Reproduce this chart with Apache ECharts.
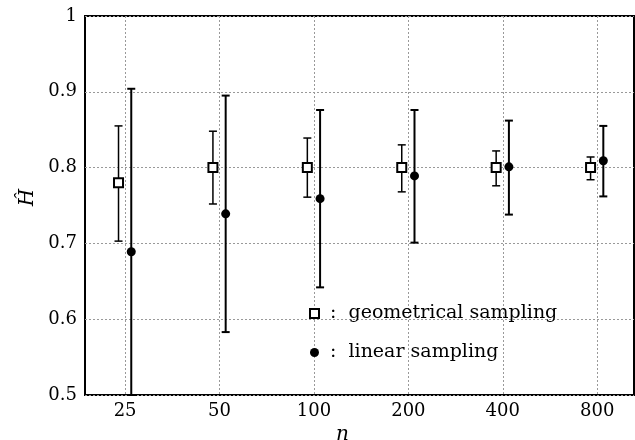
<!DOCTYPE html>
<html>
<head>
<meta charset="utf-8">
<script src="https://cdn.jsdelivr.net/npm/echarts@6/dist/echarts.min.js"></script>
<style>html,body{margin:0;padding:0;background:#fff;}#c{width:635px;height:440px;}</style>
</head>
<body>
<div id="c"></div>
<script>
var categories = ['25', '50', '100', '200', '400', '800'];
var geoMean = [0.780, 0.800, 0.800, 0.800, 0.800, 0.800];
var geoLow  = [0.703, 0.752, 0.761, 0.768, 0.776, 0.784];
var geoHigh = [0.855, 0.848, 0.839, 0.830, 0.822, 0.814];
var linMean = [0.689, 0.739, 0.759, 0.789, 0.801, 0.809];
var linLow  = [0.500, 0.583, 0.642, 0.701, 0.738, 0.762];
var linHigh = [0.904, 0.895, 0.876, 0.876, 0.862, 0.855];
var yTicks = [0.5, 0.6, 0.7, 0.8, 0.9, 1];
var seriesNames = ['geometrical sampling', 'linear sampling'];

var OFF_GEO = -0.07, OFF_LIN = 0.065;
var serif = '"DejaVu Serif", "Liberation Serif", serif';

function pts(mean, off) {
  return mean.map(function (v, i) { return [i + 1 + off, v]; });
}
function bars(low, high, off) {
  return low.map(function (v, i) { return [i + 1 + off, v, high[i]]; });
}
function errRender(width) {
  return function (params, api) {
    var x = api.value(0);
    var lo = api.coord([x, api.value(1)]);
    var hi = api.coord([x, api.value(2)]);
    var cap = 4;
    var st = { stroke: '#000', lineWidth: width };
    return {
      type: 'group',
      children: [
        { type: 'line', shape: { x1: lo[0], y1: lo[1], x2: hi[0], y2: hi[1] }, style: st },
        { type: 'line', shape: { x1: lo[0] - cap, y1: lo[1], x2: lo[0] + cap, y2: lo[1] }, style: st },
        { type: 'line', shape: { x1: hi[0] - cap, y1: hi[1], x2: hi[0] + cap, y2: hi[1] }, style: st }
      ]
    };
  };
}

var chart = echarts.init(document.getElementById('c'), null, { renderer: 'canvas' });
var idx = categories.map(function (c, i) { return i + 1; });
chart.setOption({
  animation: false,
  backgroundColor: '#fff',
  grid: { left: 85, right: 1, top: 16, bottom: 45, show: true, borderColor: '#000', borderWidth: 2, backgroundColor: 'transparent', outerBoundsMode: 'none', containLabel: false },
  xAxis: {
    type: 'value', min: 0.575, max: 6.39,
    name: 'n', nameLocation: 'middle', nameGap: 24,
    nameTextStyle: { fontFamily: serif, fontStyle: 'italic', fontSize: 20, color: '#000', padding: [0, 34, 0, 0] },
    axisLine: { show: false },
    axisTick: { show: false, customValues: idx },
    axisLabel: {
      customValues: idx, fontFamily: serif, fontSize: 18, color: '#000', margin: 7,
      formatter: function (v) { return categories[Math.round(v) - 1]; }
    },
    splitLine: { show: true, lineStyle: { color: '#999', type: [2, 2], width: 1 } }
  },
  yAxis: {
    type: 'value', min: 0.5, max: 1, interval: 0.1,
    name: 'Ĥ', nameLocation: 'middle', nameGap: 46, nameRotate: 90,
    nameTextStyle: { fontFamily: serif, fontStyle: 'italic', fontSize: 20, color: '#000', padding: [0, 0, 0, 16] },
    axisLine: { show: false },
    axisTick: { show: false },
    axisLabel: {
      fontFamily: serif, fontSize: 18, color: '#000', margin: 8,
      formatter: function (v) { return Math.abs(v - 1) < 1e-9 ? '1' : v.toFixed(1); }
    },
    splitLine: { show: true, lineStyle: { color: '#999', type: [2, 2], width: 1 } }
  },
  legend: {
    orient: 'vertical', left: 304, top: 299, itemGap: 20, itemWidth: 9, itemHeight: 9,
    data: seriesNames,
    formatter: function (n) { return ':  ' + n; },
    textStyle: { fontFamily: serif, fontSize: 19, color: '#000', padding: [0, 0, 0, 6] }
  },
  series: [
    { type: 'custom', name: 'geoErr', renderItem: errRender(1.5), data: bars(geoLow, geoHigh, OFF_GEO), encode: { x: 0, y: [1, 2] }, z: 2, clip: false },
    { type: 'custom', name: 'linErr', renderItem: errRender(2), data: bars(linLow, linHigh, OFF_LIN), encode: { x: 0, y: [1, 2] }, z: 2, clip: false },
    { type: 'scatter', name: seriesNames[0], symbol: 'rect', symbolSize: 9, data: pts(geoMean, OFF_GEO),
      itemStyle: { color: '#fff', borderColor: '#000', borderWidth: 2, opacity: 1 }, z: 5 },
    { type: 'scatter', name: seriesNames[1], symbol: 'circle', symbolSize: 9, data: pts(linMean, OFF_LIN),
      itemStyle: { color: '#000', opacity: 1 }, z: 5 }
  ]
});
</script>
</body>
</html>
